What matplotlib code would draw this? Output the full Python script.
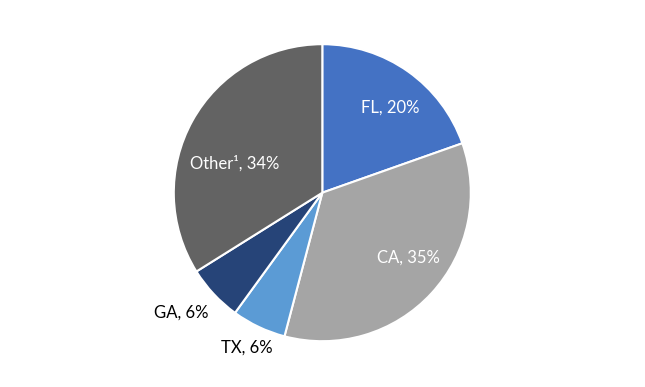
import matplotlib
matplotlib.use("Agg")
import matplotlib.pyplot as plt

states = ["FL", "CA", "TX", "GA", "Other¹"]
shares = [19.6, 34.5, 5.9, 6.1, 33.9]
labels = ["FL, 20%", "CA, 35%", "TX, 6%", "GA, 6%", "Other¹, 34%"]
colors = ["#4472C4", "#A5A5A5", "#5B9BD5", "#264478", "#636363"]
label_xy = [(0.46, 0.57), (0.58, -0.44), (-0.51, -1.04), (-0.95, -0.81), (-0.59, 0.20)]
label_color = ["white", "white", "black", "black", "white"]

plt.rcParams["font.family"] = ["Lato", "DejaVu Sans"]

fig = plt.figure(figsize=(6.45, 3.87), dpi=100)
ax = fig.add_axes([173.8 / 645, 45.8 / 387, 297 / 645, 297 / 387])
ax.pie(shares, colors=colors, startangle=90, counterclock=False, radius=1,
       wedgeprops=dict(edgecolor="white", linewidth=1.5))
for (x, y), t, c in zip(label_xy, labels, label_color):
    ax.text(x, y, t, ha="center", va="center", fontsize=12, color=c)
ax.set_xlim(-1, 1)
ax.set_ylim(-1, 1)
ax.set_aspect("equal")
ax.axis("off")

fig.savefig("out.png", dpi=100)
